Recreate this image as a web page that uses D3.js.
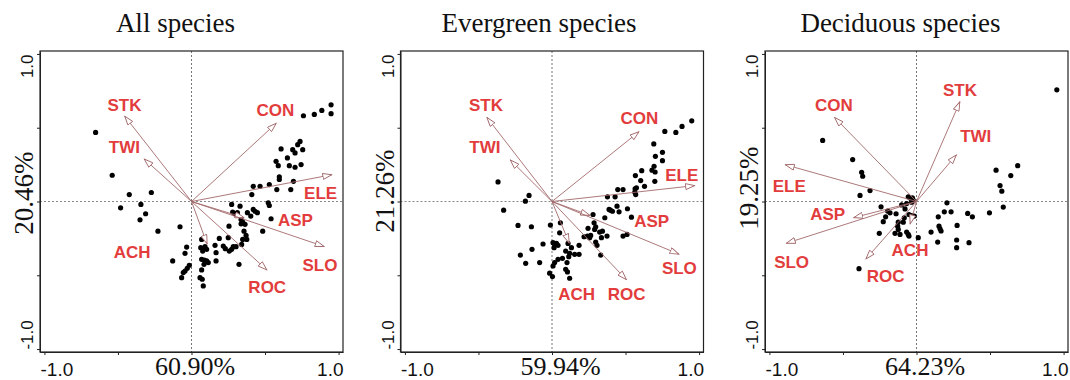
<!DOCTYPE html>
<html>
<head>
<meta charset="utf-8">
<script src="https://cdn.jsdelivr.net/npm/d3@7"></script>
<style>
  body { margin: 0; background: #fff; }
  svg { display: block; }
</style>
</head>
<body>
<div id="chart"></div>
<script>
// PCA biplots: site scores (points) and environmental loadings (arrows)
const varNames = ["STK", "TWI", "CON", "ELE", "ASP", "SLO", "ROC", "ACH"];
const titles = ["All species", "Evergreen species", "Deciduous species"];
const xPercents = ["60.90%", "59.94%", "64.23%"];
const yPercents = ["20.46%", "21.26%", "19.25%"];
const tickValues = [-1, -0.5, 0, 0.5, 1];

// loadings, same order as varNames
const allLoadings = [[-0.456,0.581],[-0.324,0.29],[0.578,0.532],[0.957,0.182],[0.36,-0.11],[0.905,-0.306],[0.515,-0.466],[0.107,-0.29]];
const evergreenLoadings = [[-0.444,0.572],[-0.286,0.284],[0.594,0.475],[0.973,0.108],[0.26,-0.095],[0.866,-0.358],[0.508,-0.532],[0.118,-0.284]];
const deciduousLoadings = [[0.296,0.678],[0.273,0.318],[-0.559,0.572],[-0.895,0.25],[-0.43,-0.11],[-0.888,-0.284],[-0.346,-0.392],[-0.044,-0.155]];

// where each variable name sits
const allLabelPos = [[-0.456,0.655],[-0.456,0.37],[0.571,0.62],[0.878,0.059],[0.707,-0.122],[0.873,-0.432],[0.515,-0.577],[-0.403,-0.342]];
const evergreenLabelPos = [[-0.449,0.655],[-0.456,0.372],[0.594,0.566],[0.882,0.182],[0.678,-0.133],[0.866,-0.448],[0.508,-0.628],[0.168,-0.628]];
const deciduousLabelPos = [[0.296,0.757],[0.403,0.448],[-0.561,0.655],[-0.865,0.104],[-0.604,-0.081],[-0.849,-0.41],[-0.21,-0.505],[-0.044,-0.329]];

const allScores = [
  [-0.652,0.468],[-0.539,0.178],[-0.423,0.047],[-0.482,-0.043],[-0.344,-0.020],[-0.312,-0.083],[-0.350,-0.124],[-0.273,0.061],[-0.228,-0.201],
  [-0.078,-0.171],[-0.128,-0.403],[-0.044,-0.351],[-0.033,-0.309],[-0.015,-0.432],[-0.029,-0.453],[-0.044,-0.471],[-0.067,-0.516],[-0.056,-0.482],
  [0.069,-0.257],[0.063,-0.313],[0.080,-0.320],[0.092,-0.306],[0.076,-0.336],[0.103,-0.324],[0.069,-0.392],[0.087,-0.397],[0.103,-0.403],
  [0.114,-0.414],[0.085,-0.426],[0.069,-0.464],[0.058,-0.516],[0.073,-0.527],[0.080,-0.572],
  [0.160,-0.297],[0.167,-0.347],[0.167,-0.403],[0.189,-0.250],[0.216,-0.302],[0.230,-0.320],[0.250,-0.245],[0.257,-0.336],[0.273,-0.324],
  [0.284,-0.306],[0.303,-0.306],[0.341,-0.291],[0.348,-0.257],[0.376,-0.257],[0.323,-0.426],
  [0.255,-0.167],[0.273,-0.020],[0.280,-0.072],[0.296,-0.083],[0.312,-0.076],[0.330,-0.032],[0.337,-0.122],[0.348,-0.140],[0.337,-0.151],
  [0.364,-0.155],[0.357,-0.201],[0.371,-0.230],[0.380,-0.076],[0.403,-0.099],[0.420,-0.054],[0.432,-0.066],[0.448,-0.076],
  [0.420,0.103],[0.466,0.103],[0.410,0.047],[0.529,0.115],[0.522,-0.009],[0.529,-0.027],[0.541,-0.117],[0.484,-0.201],[0.580,0.081],
  [0.575,0.272],[0.590,0.243],[0.597,0.167],[0.597,0.149],[0.609,0.356],[0.652,0.295],[0.665,0.243],[0.688,0.351],[0.704,0.329],
  [0.693,0.137],[0.675,0.081],[0.704,0.232],[0.722,0.385],[0.738,0.407],[0.745,0.250],[0.756,0.351],[0.761,0.581],[0.835,0.590],
  [0.886,0.617],[0.949,0.655],[0.949,0.595]
];

const evergreenScores = [
  [-0.367,0.133],[-0.329,-0.059],[-0.156,0.041],[-0.181,0.002],[-0.231,-0.162],[-0.140,-0.171],[-0.011,-0.160],[0.057,-0.144],[0.052,-0.212],
  [-0.061,-0.288],[-0.136,-0.324],[-0.215,-0.363],[-0.179,-0.419],[-0.084,-0.414],[0.007,-0.279],[0.018,-0.291],[0.030,-0.284],[0.041,-0.297],
  [0.014,-0.313],[0.109,-0.284],[0.132,-0.313],[0.093,-0.336],[0.120,-0.351],[0.154,-0.358],[0.184,-0.358],[0.114,-0.374],[0.071,-0.385],
  [0.041,-0.392],[0.018,-0.414],[0.007,-0.437],[-0.016,-0.486],[0.003,-0.509],[0.102,-0.414],[0.093,-0.459],[0.105,-0.477],[0.120,-0.520],
  [0.184,-0.297],[0.245,-0.182],[0.218,-0.239],[0.241,-0.234],[0.256,-0.245],[0.263,-0.230],[0.297,-0.275],[0.306,-0.297],[0.331,-0.363],
  [0.279,-0.088],[0.286,-0.144],[0.297,-0.171],[0.290,-0.189],[0.324,-0.207],[0.343,-0.201],[0.336,-0.245],[0.359,-0.110],[0.374,-0.234],
  [0.388,-0.054],[0.397,-0.059],[0.411,-0.066],[0.442,-0.032],[0.456,-0.070],[0.513,-0.049],[0.540,-0.106],[0.483,-0.234],[0.510,-0.223],
  [0.377,0.032],[0.429,0.032],[0.447,0.081],[0.483,0.081],[0.563,0.063],[0.565,0.086],[0.574,0.093],[0.569,0.047],[0.567,0.176],
  [0.603,0.142],[0.610,0.209],[0.629,0.103],[0.699,0.137],[0.680,0.212],[0.694,0.239],[0.701,0.200],[0.703,0.306],[0.751,0.333],
  [0.751,0.277],[0.692,0.390],[0.767,0.475],[0.842,0.468],[0.884,0.509],[0.950,0.547]
];

const deciduousScores = [
  [-0.638,0.414],[-0.434,0.284],[-0.373,0.198],[-0.366,0.171],[-0.384,0.041],[-0.316,0.074],
  [-0.056,0.032],[-0.039,0.020],[-0.028,0.025],[-0.022,0.009],[-0.033,-0.005],[-0.067,-0.014],[-0.101,-0.023],
  [-0.241,-0.036],[-0.196,-0.065],[-0.180,-0.077],[-0.210,-0.104],[-0.226,-0.137],[-0.139,-0.083],[-0.078,-0.050],
  [-0.051,-0.088],[-0.033,-0.095],[-0.015,-0.099],[-0.083,-0.110],[-0.124,-0.140],[-0.090,-0.140],[-0.128,-0.167],
  [-0.124,-0.189],[-0.146,-0.216],[-0.112,-0.223],[-0.067,-0.207],[-0.056,-0.223],[-0.051,-0.234],[-0.253,-0.216],
  [0.012,-0.245],[0.099,-0.207],[0.148,-0.104],[0.153,-0.167],[0.160,-0.185],[0.167,-0.200],[0.189,-0.070],[0.235,-0.070],
  [0.207,-0.009],[0.276,-0.162],[0.348,-0.081],[0.380,-0.104],[0.496,-0.077],[0.144,-0.275],[0.273,-0.261],[0.273,-0.313],
  [0.357,-0.279],[-0.391,-0.455],
  [0.541,0.212],[0.688,0.243],[0.641,0.176],[0.568,0.108],[0.580,0.070],[0.590,-0.038],[0.954,0.757]
];

const panels = [
  {scores: allScores, loadings: allLoadings, labels: allLabelPos},
  {scores: evergreenScores, loadings: evergreenLoadings, labels: evergreenLabelPos},
  {scores: deciduousScores, loadings: deciduousLoadings, labels: deciduousLabelPos}
];

const width = 1070, height = 380;
const boxLefts = [40, 400.5, 765];
const boxW = 303, boxTop = 51, boxBottom = 352;
const titleShift = [-16, -13, -16];
const xPctShift = [3, 8, 8];
const yPctShift = [-9, -11, -14];
const arrowColor = "#a3696b";
const labelColor = "#e23c3c";
const serif = "'Liberation Serif', 'Times New Roman', serif";
const sans = "'Liberation Sans', Arial, sans-serif";

const svg = d3.select("#chart").append("svg")
  .attr("width", width)
  .attr("height", height)
  .style("background", "#fff");

svg.append("defs").append("marker")
  .attr("id", "head")
  .attr("markerUnits", "userSpaceOnUse")
  .attr("viewBox", "0 0 10 7")
  .attr("refX", 10)
  .attr("refY", 3.5)
  .attr("markerWidth", 10)
  .attr("markerHeight", 7)
  .attr("orient", "auto")
  .append("path")
  .attr("d", "M0.5,0.5 L9.5,3.5 L0.5,6.5 Z")
  .attr("fill", "#fff")
  .attr("stroke", arrowColor)
  .attr("stroke-width", 0.9);

panels.forEach((p, i) => {
  const left = boxLefts[i];
  const xScale = d3.scaleLinear().domain([-1.03, 1.03]).range([left, left + boxW]);
  const yScale = d3.scaleLinear().domain([-1.02, 1.02]).range([boxBottom, boxTop]);
  const g = svg.append("g").attr("class", "panel");

  // title
  g.append("text")
    .attr("x", xScale(0) + titleShift[i])
    .attr("y", 32)
    .attr("text-anchor", "middle")
    .style("font-family", serif)
    .style("font-size", "27px")
    .style("fill", "#111")
    .text(titles[i]);

  // zero lines
  g.append("line")
    .attr("x1", xScale(0)).attr("x2", xScale(0))
    .attr("y1", boxTop).attr("y2", boxBottom)
    .attr("stroke", "#666").attr("stroke-width", 0.9)
    .attr("stroke-dasharray", "2,2");
  g.append("line")
    .attr("x1", left).attr("x2", left + boxW)
    .attr("y1", yScale(0)).attr("y2", yScale(0))
    .attr("stroke", "#888").attr("stroke-width", 1.2)
    .attr("stroke-dasharray", "2,2");

  // scores
  g.selectAll(".pt")
    .data(p.scores)
    .join("circle")
    .attr("class", "pt")
    .attr("cx", d => xScale(d[0]))
    .attr("cy", d => yScale(d[1]))
    .attr("r", 2.6)
    .attr("fill", "#000");

  // loadings
  g.selectAll(".vec")
    .data(p.loadings)
    .join("line")
    .attr("class", "vec")
    .attr("x1", xScale(0))
    .attr("y1", yScale(0))
    .attr("x2", d => xScale(d[0]))
    .attr("y2", d => yScale(d[1]))
    .attr("stroke", arrowColor)
    .attr("stroke-width", 0.9)
    .attr("marker-end", "url(#head)");

  g.selectAll(".vlab")
    .data(p.labels)
    .join("text")
    .attr("class", "vlab")
    .attr("x", d => xScale(d[0]))
    .attr("y", d => yScale(d[1]))
    .attr("dy", "0.36em")
    .attr("text-anchor", "middle")
    .style("font-family", sans)
    .style("font-weight", "bold")
    .style("font-size", "17px")
    .style("fill", labelColor)
    .text((d, j) => varNames[j]);

  // axes: -1.0 / 1.0 at the ends, explained variance at zero
  const fmt = pct => v => v === 0 ? pct : (Math.abs(v) === 1 ? d3.format(".1f")(v).replace("−", "-") : "");

  const xAxisG = g.append("g")
    .attr("transform", "translate(0," + boxBottom + ")")
    .call(d3.axisBottom(xScale).tickValues(tickValues).tickSizeInner(3).tickSizeOuter(0).tickFormat(fmt(xPercents[i])));
  xAxisG.selectAll(".tick text")
    .attr("y", 24).attr("dy", 0)
    .style("fill", "#111")
    .style("font-family", sans)
    .style("font-size", "19px");
  xAxisG.selectAll(".tick").filter(d => d === -1).select("text")
    .attr("text-anchor", "start").attr("x", left - xScale(-1));
  xAxisG.selectAll(".tick").filter(d => d === 1).select("text")
    .attr("text-anchor", "end").attr("x", left + boxW - xScale(1));
  xAxisG.selectAll(".tick").filter(d => d === 0).select("text")
    .attr("x", xPctShift[i])
    .attr("y", 23)
    .style("font-family", serif)
    .style("font-size", "26px")
    .style("fill", "#111");

  const yAxisG = g.append("g")
    .attr("transform", "translate(" + left + ",0)")
    .call(d3.axisLeft(yScale).tickValues(tickValues).tickSizeInner(3).tickSizeOuter(0).tickFormat(fmt(yPercents[i])));
  yAxisG.selectAll(".tick text")
    .attr("x", 0).attr("dy", 0)
    .attr("transform", "translate(-7,0) rotate(-90)")
    .style("fill", "#111")
    .style("font-family", sans)
    .style("font-size", "17px");
  yAxisG.selectAll(".tick").filter(d => d === 1).select("text").attr("text-anchor", "end");
  yAxisG.selectAll(".tick").filter(d => d === -1).select("text").attr("text-anchor", "start");
  yAxisG.selectAll(".tick").filter(d => d === 0).select("text")
    .attr("text-anchor", "middle")
    .attr("transform", "translate(-7," + yPctShift[i] + ") rotate(-90)")
    .style("font-family", serif)
    .style("font-size", "27px")
    .style("fill", "#111");

  g.selectAll(".domain").attr("stroke", "#222");
  g.selectAll(".tick line").attr("stroke", "#222");

  // frame
  g.append("rect")
    .attr("x", left).attr("y", boxTop)
    .attr("width", boxW).attr("height", boxBottom - boxTop)
    .attr("fill", "none")
    .attr("stroke", "#222")
    .attr("stroke-width", 1.2);
});
</script>
</body>
</html>
